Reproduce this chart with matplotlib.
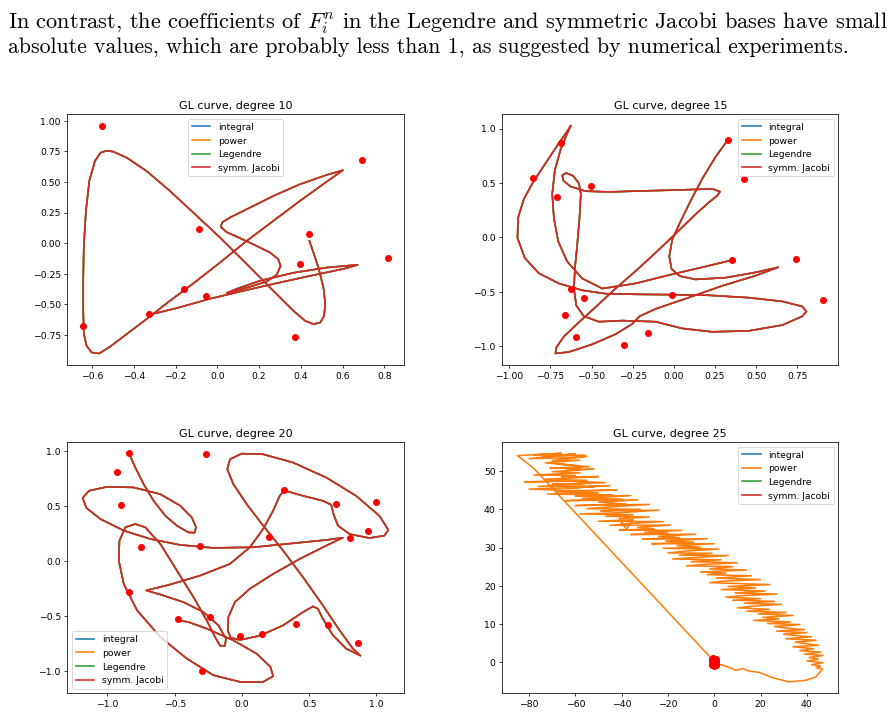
import numpy as np
import matplotlib.pyplot as plt

plt.rcParams['mathtext.fontset'] = 'cm'
plt.rcParams['lines.linewidth'] = 1.7

series = ['integral', 'power', 'Legendre', 'symm. Jacobi']
colors = ['C0', 'C1', 'C2', 'C3']

# ---- degree 10 ----
pts10 = [(-0.552, 0.961), (0.695, 0.678), (-0.088, 0.117), (0.438, 0.079),
         (0.819, -0.120), (0.396, -0.171), (-0.160, -0.376), (-0.053, -0.433),
         (-0.329, -0.582), (-0.645, -0.675), (0.374, -0.765)]
curve10 = [(-0.326, -0.585), (-0.195, -0.531), (-0.035, -0.454), (0.125, -0.389),
           (0.284, -0.327), (0.444, -0.267), (0.604, -0.210), (0.672, -0.177),
           (0.636, -0.182), (0.524, -0.199), (0.364, -0.242), (0.204, -0.307),
           (0.093, -0.373), (0.045, -0.408), (0.077, -0.395), (0.157, -0.356),
           (0.236, -0.313), (0.284, -0.259), (0.303, -0.185), (0.292, -0.131),
           (0.252, -0.076), (0.188, -0.022), (0.109, 0.041), (0.045, 0.090),
           (0.016, 0.133), (0.024, 0.171), (0.061, 0.210), (0.141, 0.278),
           (0.268, 0.386), (0.396, 0.482), (0.524, 0.558), (0.601, 0.596),
           (0.524, 0.503), (0.396, 0.346), (0.268, 0.182), (0.141, 0.019),
           (0.013, -0.158), (-0.115, -0.329), (-0.227, -0.471), (-0.339, -0.620),
           (-0.434, -0.743), (-0.514, -0.846), (-0.565, -0.901), (-0.602, -0.893),
           (-0.626, -0.838), (-0.639, -0.743), (-0.642, -0.552), (-0.642, -0.280),
           (-0.639, -0.008), (-0.629, 0.264), (-0.613, 0.509), (-0.586, 0.672),
           (-0.559, 0.740), (-0.530, 0.756), (-0.498, 0.748), (-0.434, 0.699),
           (-0.339, 0.590), (-0.227, 0.427), (-0.115, 0.250), (0.013, 0.046),
           (0.141, -0.171), (0.268, -0.389), (0.364, -0.552), (0.420, -0.634),
           (0.460, -0.661), (0.492, -0.650), (0.511, -0.596), (0.517, -0.498),
           (0.508, -0.362), (0.484, -0.199), (0.460, -0.076), (0.441, 0.019)]

# ---- degree 15 ----
pts15 = [(0.329, 0.897), (0.426, 0.534), (-0.685, 0.866), (-0.855, 0.549),
         (-0.711, 0.372), (-0.504, 0.474), (0.353, -0.207), (0.744, -0.200),
         (0.906, -0.580), (-0.622, -0.471), (-0.547, -0.558), (-0.662, -0.710),
         (-0.014, -0.527), (-0.594, -0.913), (-0.304, -0.994), (-0.158, -0.881)]
curve15 = [(0.328, 0.897), (0.254, 0.742), (0.173, 0.540), (0.102, 0.337),
           (0.037, 0.135), (-0.010, -0.020), (-0.028, -0.176), (-0.014, -0.291),
           (0.035, -0.356), (0.132, -0.387), (0.314, -0.371), (0.497, -0.322),
           (0.634, -0.275), (0.497, -0.352), (0.294, -0.446), (0.071, -0.564),
           (-0.111, -0.658), (-0.208, -0.726), (-0.253, -0.797), (-0.354, -0.891),
           (-0.496, -0.984), (-0.638, -1.055), (-0.719, -1.068), (-0.715, -1.015),
           (-0.668, -0.912), (-0.577, -0.782), (-0.476, -0.642), (-0.354, -0.471),
           (-0.213, -0.284), (-0.091, -0.113), (0.010, 0.033), (0.132, 0.213),
           (0.213, 0.322), (0.264, 0.384), (0.280, 0.421), (0.233, 0.446),
           (0.051, 0.437), (-0.172, 0.428), (-0.395, 0.418), (-0.537, 0.425),
           (-0.628, 0.468), (-0.672, 0.524), (-0.678, 0.571), (-0.654, 0.592),
           (-0.613, 0.567), (-0.577, 0.499), (-0.565, 0.400), (-0.573, 0.182),
           (-0.587, -0.067), (-0.601, -0.284), (-0.607, -0.471), (-0.593, -0.626),
           (-0.547, -0.726), (-0.455, -0.776), (-0.313, -0.766), (-0.111, -0.776),
           (0.051, -0.838), (0.233, -0.869), (0.456, -0.860), (0.659, -0.807),
           (0.780, -0.726), (0.805, -0.682), (0.780, -0.636), (0.659, -0.589),
           (0.456, -0.555), (0.213, -0.533), (-0.030, -0.527), (-0.233, -0.524),
           (-0.415, -0.518), (-0.557, -0.487), (-0.698, -0.424), (-0.820, -0.331),
           (-0.905, -0.191), (-0.950, -0.005), (-0.946, 0.182), (-0.911, 0.353),
           (-0.855, 0.508), (-0.780, 0.680), (-0.699, 0.866), (-0.648, 0.975),
           (-0.626, 1.028), (-0.654, 0.934), (-0.689, 0.804), (-0.723, 0.617),
           (-0.739, 0.400), (-0.729, 0.182), (-0.703, -0.036), (-0.648, -0.222),
           (-0.557, -0.378), (-0.435, -0.471), (-0.233, -0.424), (-0.030, -0.347),
           (0.173, -0.275), (0.335, -0.216)]

# ---- degree 20 ----
pts20 = [(-0.842, 0.977), (-0.269, 0.968), (-0.928, 0.811), (-0.896, 0.507),
         (0.314, 0.643), (0.701, 0.516), (0.998, 0.531), (0.941, 0.275),
         (0.805, 0.205), (0.202, 0.214), (-0.748, 0.124), (-0.309, 0.136),
         (-0.837, -0.278), (-0.472, -0.531), (-0.237, -0.513), (-0.015, -0.682),
         (0.146, -0.664), (0.405, -0.573), (0.640, -0.579), (0.862, -0.745),
         (-0.294, -1.002)]
curve20 = [(-0.837, 0.968), (-0.793, 0.848), (-0.731, 0.697), (-0.657, 0.546),
           (-0.570, 0.410), (-0.484, 0.320), (-0.398, 0.259), (-0.353, 0.256),
           (-0.341, 0.305), (-0.373, 0.395), (-0.459, 0.501), (-0.607, 0.606),
           (-0.805, 0.667), (-1.002, 0.673), (-1.138, 0.637), (-1.185, 0.570),
           (-1.156, 0.480), (-1.052, 0.380), (-0.879, 0.275), (-0.681, 0.199),
           (-0.459, 0.145), (-0.212, 0.118), (0.084, 0.124), (0.380, 0.160),
           (0.627, 0.190), (0.751, 0.211), (0.627, 0.139), (0.430, 0.018),
           (0.232, -0.118), (0.059, -0.253), (-0.052, -0.374), (-0.101, -0.510),
           (-0.106, -0.630), (-0.084, -0.697), (-0.015, -0.718), (0.133, -0.679),
           (0.306, -0.585), (0.454, -0.465), (0.528, -0.413), (0.565, -0.434),
           (0.602, -0.525), (0.677, -0.676), (0.775, -0.796), (0.881, -0.860),
           (0.825, -0.796), (0.726, -0.630), (0.602, -0.404), (0.454, -0.148),
           (0.306, 0.094), (0.158, 0.320), (0.035, 0.516), (-0.064, 0.697),
           (-0.109, 0.833), (-0.089, 0.923), (-0.002, 0.974), (0.158, 0.968),
           (0.380, 0.893), (0.627, 0.757), (0.849, 0.591), (1.022, 0.410),
           (1.089, 0.281), (1.059, 0.229), (0.948, 0.208), (0.800, 0.244),
           (0.714, 0.320), (0.681, 0.425), (0.664, 0.510), (0.602, 0.546),
           (0.454, 0.591), (0.343, 0.630), (0.311, 0.636), (0.281, 0.591),
           (0.232, 0.456), (0.158, 0.290), (0.059, 0.124), (-0.089, -0.027),
           (-0.311, -0.133), (-0.533, -0.214), (-0.711, -0.268), (-0.607, -0.305),
           (-0.435, -0.374), (-0.286, -0.465), (-0.175, -0.585), (-0.119, -0.706),
           (-0.126, -0.772), (-0.163, -0.769), (-0.200, -0.691), (-0.262, -0.540),
           (-0.360, -0.329), (-0.484, -0.087), (-0.607, 0.154), (-0.719, 0.305),
           (-0.793, 0.335), (-0.867, 0.305), (-0.911, 0.184), (-0.916, 0.003),
           (-0.879, -0.208), (-0.780, -0.449), (-0.607, -0.691), (-0.410, -0.887),
           (-0.212, -1.038), (-0.015, -1.098), (0.158, -1.098), (0.232, -1.047),
           (0.212, -0.962), (0.109, -0.842), (-0.064, -0.721), (-0.262, -0.615),
           (-0.398, -0.555), (-0.464, -0.540)]

# ---- degree 25 ----
pts25 = [(0.1, 0.9), (-0.6, 0.4), (0.8, -0.3), (-0.9, -0.8), (0.3, 0.6),
         (-0.2, -0.5), (0.7, 0.2), (-0.5, 0.95), (0.9, -0.9), (-0.8, 0.1),
         (0.0, -0.2), (0.5, 0.7), (-0.3, -0.95), (0.6, 0.45), (-0.7, -0.4),
         (0.2, 0.25), (-1.0, 0.65), (0.4, -0.7), (-0.1, 0.5), (0.95, 0.0),
         (-0.4, -0.1), (0.75, -0.6), (-0.85, 0.85), (0.15, -0.75), (-0.55, 0.15),
         (0.55, 0.8)]
curve25_good = [(0.1, 0.9), (0.6, 0.5), (0.8, -0.2), (0.3, -0.7), (-0.4, -0.6),
                (-0.8, 0.0), (-0.5, 0.6), (0.2, 0.3), (0.5, -0.3)]
curve25_power = [
    (-1.0, 0.8), (-78.0, 50.8), (-85.0, 54.1),
    (-66, 54.7), (-78, 54.3), (-56, 54.2), (-74, 53.8), (-60, 54.6), (-80, 53.3),
    (-63, 53.5), (-55, 53.9), (-70, 52.8), (-58, 52.9), (-73, 52.2), (-61, 51.6),
    (-68, 51.9), (-54, 51.2), (-71, 50.8), (-57, 51.0), (-64, 50.3), (-52, 50.6),
    (-70, 49.9), (-58, 49.6), (-78, 49.0), (-60, 48.9), (-66, 48.5), (-50, 48.6),
    (-73, 47.9), (-55, 47.6), (-82, 47.2), (-62, 47.4), (-47, 47.0), (-70, 46.6),
    (-56, 46.8), (-76, 46.0), (-45, 46.2), (-64, 45.6), (-52, 45.9), (-80, 45.3),
    (-58, 44.9), (-42, 45.1), (-68, 44.6), (-50, 44.3), (-72, 44.0), (-44, 43.8),
    (-60, 43.5), (-36, 43.6), (-57, 42.9), (-40, 42.7), (-64, 42.3), (-33, 42.5),
    (-50, 41.9), (-38, 41.4), (-60, 41.0), (-28, 41.3), (-46, 40.6), (-55, 40.2),
    (-32, 40.0), (-49, 39.6), (-24, 39.8), (-42, 39.1), (-58, 38.8), (-35, 38.6),
    (-47, 38.2), (-28, 38.0), (-41, 37.6), (-38, 34.8), (-35, 37.3), (-50, 36.9),
    (-22, 36.8), (-37, 36.3), (-45, 35.8), (-19, 35.9), (-33, 35.3), (-26, 34.9),
    (-41, 34.6), (-14, 34.5), (-30, 34.0), (-20, 33.8), (-36, 33.4), (-8, 33.5),
    (-24, 32.9), (-15, 32.6), (-31, 32.2), (-3, 32.3), (-21, 31.7), (-9, 31.4),
    (-27, 31.0), (0, 31.0), (-16, 30.5), (-6, 30.1), (-22, 29.8), (2, 29.6),
    (-12, 29.1), (-20, 28.6), (-1, 28.5), (-15, 28.0), (6, 27.9), (-8, 27.4),
    (-18, 27.0), (3, 26.8), (-10, 26.3), (10, 26.0), (-4, 25.6), (-12, 25.2),
    (8, 25.0), (-2, 24.4), (14, 24.1), (-6, 23.6), (5, 23.3), (-3, 22.9),
    (16, 22.6), (1, 22.0), (20, 21.6), (4, 21.2), (-2, 20.8), (14, 20.5),
    (24, 20.3), (6, 19.8), (18, 19.4), (3, 19.0), (22, 18.6), (9, 18.1),
    (27, 17.8), (12, 17.4), (5, 17.0), (20, 16.6), (8, 16.2), (26, 15.9),
    (13, 15.4), (29, 15.1), (16, 14.6), (10, 14.2), (24, 13.8), (14, 13.3),
    (31, 13.0), (19, 12.6), (34, 12.2), (21, 11.7), (28, 11.3), (17, 10.9),
    (33, 10.5), (23, 10.1), (37, 9.8), (26, 9.3), (31, 8.9), (39, 8.5),
    (27, 8.1), (40, 7.7), (30, 7.3), (36, 6.9), (42, 6.6), (31, 6.1),
    (44, 5.7), (35, 5.2), (40, 4.8), (45, 4.4), (34, 4.0), (43, 3.5),
    (37, 3.0), (46, 2.6), (39, 2.1), (47, 1.7), (41, 1.2), (45, 0.7),
    (40, 0.3), (47, -0.2), (42, -0.7), (46, -1.1), (44, -1.5), (46.8, -1.8),
    (43.9, -3.9), (39.6, -4.8), (32.4, -5.2), (25.2, -4.1), (19.4, -2.7),
    (15.1, -2.4), (12.2, -1.7), (9.4, -2.2), (6.5, -1.4), (3.6, -0.8),
    (1.4, -0.6), (0.3, -0.4)]

panels = [
    ('GL curve, degree 10', pts10, [curve10] * 4, 'upper center'),
    ('GL curve, degree 15', pts15, [curve15] * 4, 'upper right'),
    ('GL curve, degree 20', pts20, [curve20] * 4, 'lower left'),
    ('GL curve, degree 25', pts25,
     [curve25_good, curve25_power, curve25_good, curve25_good], 'upper right'),
]

W, H = 894, 714
fig = plt.figure(figsize=(W / 67 + 0.005, H / 67 + 0.005), dpi=67)

fig.text(8 / W, 1 - 28 / H,
         "In contrast, the coefficients of $F_i^n$ in the Legendre and symmetric Jacobi bases have small",
         family='cmr10', fontsize=24.0)
fig.text(8 / W, 1 - 53 / H,
         "absolute values, which are probably less than 1, as suggested by numerical experiments.",
         family='cmr10', fontsize=23.4)

# axes boxes in pixels: left, top, right, bottom
boxes = [(67.3, 114.5, 403.5, 365), (502, 114.5, 838, 365),
         (67.3, 442, 403.5, 693.3), (502, 442, 838, 693.3)]

for (title, pts, curves, loc), (l, t, r, b) in zip(panels, boxes):
    ax = fig.add_axes([l / W, 1 - b / H, (r - l) / W, (b - t) / H])
    for name, col, crv in zip(series, colors, curves):
        cx, cy = np.array(crv).T
        ax.plot(cx, cy, color=col, label=name)
    px, py = np.array(pts).T
    ax.plot(px, py, 'ro', markersize=6.5)
    ax.set_title(title)
    ax.legend(loc=loc)

fig.savefig('out.png', dpi=67)
